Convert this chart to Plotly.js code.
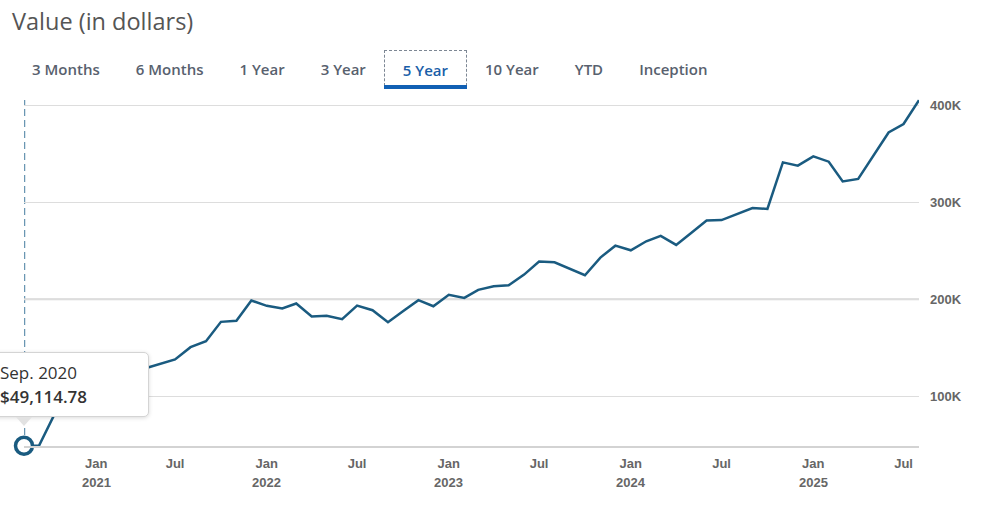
<!DOCTYPE html>
<html>
<head>
<meta charset="utf-8">
<script src="https://cdn.plot.ly/plotly-3.0.1.min.js"></script>
<style>
  html, body { margin: 0; padding: 0; background: #fff; overflow: hidden; }
  #wrap { position: relative; width: 987px; height: 507px; overflow: hidden; }
  #chart { position: absolute; left: 0; top: 0; width: 987px; height: 507px; }
  #tabs { position: absolute; left: 14px; top: 50px; display: flex; font-family: "Open Sans", sans-serif;
          font-weight: 600; font-size: 15px; color: #58616e; pointer-events: none; }
  #tabs div { padding: 0 18px; height: 36px; line-height: 38px; box-sizing: border-box; white-space: nowrap; }
  #tabs div.active { color: #1a5ea8; border: 1px dashed #7d8794; border-bottom: none; position: relative; }
  #tabs div.active::after { content: ""; position: absolute; left: -1px; right: -1px; bottom: -3px; height: 4px; background: #1160b4; }
  #tip { position: absolute; left: -20px; top: 352px; width: 169px; height: 65px; box-sizing: border-box;
         background: #fff; border: 1px solid #d4d4d4; border-radius: 5px; box-shadow: 0 1px 4px rgba(0,0,0,0.15);
         font-family: "Open Sans", sans-serif; font-size: 17px; color: #333; padding: 8px 0 0 19px; line-height: 24px; }
  #tip .v { font-weight: 600; }
  #arrow { position: absolute; left: 16px; top: 417px; width: 0; height: 0;
           border-left: 8px solid transparent; border-right: 8px solid transparent; border-top: 9px solid #e2e2e2; }
</style>
</head>
<body>
<div id="wrap">
  <div id="chart"></div>
  <div id="tabs"></div>
  <div id="tip"></div>
  <div id="arrow"></div>
</div>
<script>
// ---- data ----
const months = [
  '2020-09-01','2020-10-01','2020-11-01','2020-12-01',
  '2021-01-01','2021-02-01','2021-03-01','2021-04-01','2021-05-01','2021-06-01',
  '2021-07-01','2021-08-01','2021-09-01','2021-10-01','2021-11-01','2021-12-01',
  '2022-01-01','2022-02-01','2022-03-01','2022-04-01','2022-05-01','2022-06-01',
  '2022-07-01','2022-08-01','2022-09-01','2022-10-01','2022-11-01','2022-12-01',
  '2023-01-01','2023-02-01','2023-03-01','2023-04-01','2023-05-01','2023-06-01',
  '2023-07-01','2023-08-01','2023-09-01','2023-10-01','2023-11-01','2023-12-01',
  '2024-01-01','2024-02-01','2024-03-01','2024-04-01','2024-05-01','2024-06-01',
  '2024-07-01','2024-08-01','2024-09-01','2024-10-01','2024-11-01','2024-12-01',
  '2025-01-01','2025-02-01','2025-03-01','2025-04-01','2025-05-01','2025-06-01',
  '2025-07-01','2025-08-01'
];
const values = [
  49114.78, 49000, 81400, 99000,
  106000, 112000, 118000, 124000, 128700, 133300,
  138000, 150600, 156800, 176700, 177800, 198700,
  193200, 190400, 195600, 182200, 183000, 179400,
  193500, 188700, 176300, 187700, 199000, 192800,
  204500, 201400, 209700, 213400, 214400, 225400,
  238800, 238100, 231300, 224700, 242900, 255200,
  250400, 259700, 265200, 256000, 268300, 281000,
  281500, 287900, 294000, 293000, 341000, 337600,
  347100, 341700, 321400, 323900, 348100, 371800,
  380500, 405000
];
const xTickDates = ['2021-01-24','2021-07-01','2022-01-01','2022-07-01','2023-01-01','2023-07-01',
                    '2024-01-01','2024-07-01','2025-01-01','2025-07-01'];
const xTickLabels = ['Jan','Jul','Jan','Jul','Jan','Jul','Jan','Jul','Jan','Jul'];
const yearLabels = ['2021','','2022','','2023','','2024','','2025',''];
const yTickVals = [100000, 200000, 300000, 400000];
const yTickLabels = ['100K','200K','300K','400K'];
const emphasizedGrid = [200000];
const tabLabels = ['3 Months','6 Months','1 Year','3 Year','5 Year','10 Year','YTD','Inception'];
const activeTab = '5 Year';
const tipDate = 'Sep. 2020';
const tipValue = '$49,114.78';

// ---- html parts ----
const tabs = document.getElementById('tabs');
tabLabels.forEach(t => {
  const d = document.createElement('div');
  d.textContent = t;
  if (t === activeTab) d.className = 'active';
  tabs.appendChild(d);
});
document.getElementById('tip').innerHTML = '<div>' + tipDate + '</div><div class="v">' + tipValue + '</div>';

// ---- chart ----
const lineColor = '#1a5b80';
const axisFont = { family: 'Liberation Sans, Arial, sans-serif', size: 13, color: '#666666', weight: 'bold' };

const traces = [
  { type: 'scatter', mode: 'lines', x: months, y: values,
    line: { color: lineColor, width: 2.5 }, hoverinfo: 'skip' },
  { type: 'scatter', mode: 'markers', x: [months[0]], y: [values[0]], cliponaxis: false,
    marker: { symbol: 'circle', size: 17, color: '#ffffff', line: { color: lineColor, width: 3.5 } },
    hoverinfo: 'skip' }
];

const annotations = [];
yearLabels.forEach((yr, i) => {
  if (!yr) return;
  annotations.push({ x: xTickDates[i], xref: 'x', y: 0, yref: 'paper', text: '<b>' + yr + '</b>',
    showarrow: false, yanchor: 'middle', xanchor: 'center', yshift: -36, font: axisFont });
});

const shapes = [
  { type: 'line', xref: 'x', yref: 'paper', x0: months[0], x1: months[0], y0: 0, y1: 0.994, layer: 'below',
    line: { color: '#6a96b2', width: 2.5, dash: '7px,4px' } }
];
emphasizedGrid.forEach(v => shapes.push({ type: 'line', xref: 'paper', yref: 'y', x0: 0, x1: 1, y0: v, y1: v,
  layer: 'below', line: { color: '#d6d6d6', width: 2 } }));

const layout = {
  width: 987, height: 507,
  margin: { l: 24, r: 68, t: 98, b: 61 },
  paper_bgcolor: '#ffffff', plot_bgcolor: '#ffffff',
  showlegend: false,
  title: { text: 'Value (in dollars)', xref: 'container', yref: 'container', x: 12 / 987, xanchor: 'left',
           y: 1 - 22 / 507, yanchor: 'middle', font: { family: 'Open Sans, sans-serif', size: 23.5, color: '#555555' } },
  xaxis: { type: 'date', range: [months[0], months[months.length - 1]], showgrid: false, zeroline: false,
           showline: true, linecolor: '#d3d3d3', linewidth: 2, ticks: '',
           tickmode: 'array', tickvals: xTickDates, ticktext: xTickLabels.map(t => '<b>' + t + '</b>'),
           tickfont: axisFont, ticklabelstandoff: 4, fixedrange: true },
  yaxis: { side: 'right', range: [48800, 407300], showgrid: true, gridcolor: '#dddddd', gridwidth: 1,
           zeroline: false, showline: false, ticks: '', tickmode: 'array', tickvals: yTickVals,
           ticktext: yTickLabels.map(t => '<b>' + t + '</b>'), tickfont: axisFont, ticklabelstandoff: 10,
           fixedrange: true },
  annotations: annotations,
  shapes: shapes
};

Plotly.newPlot('chart', traces, layout, { displayModeBar: false, staticPlot: true });
</script>
</body>
</html>
